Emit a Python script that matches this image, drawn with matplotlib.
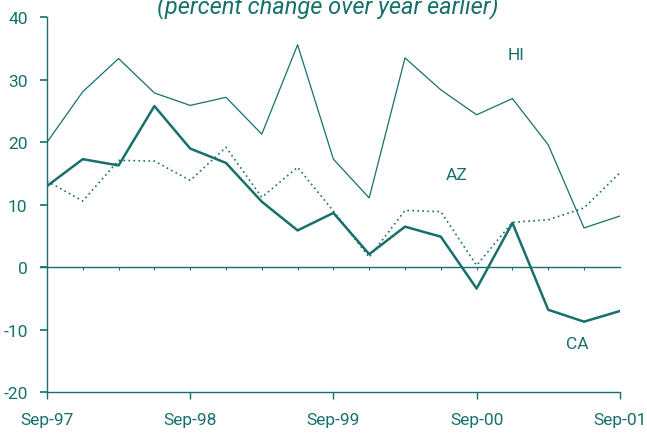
import matplotlib.pyplot as plt
import numpy as np

# quarterly, Sep-97 .. Sep-01 (percent change over year earlier)
quarters = np.arange(17)
ca = [13.0, 17.3, 16.3, 25.8, 19.0, 16.7, 10.5, 5.9, 8.7, 2.1, 6.5, 4.9, -3.4, 7.1, -6.8, -8.7, -7.0]
az = [13.8, 10.6, 17.1, 17.0, 13.9, 19.2, 11.2, 16.0, 9.0, 1.6, 9.1, 8.9, 0.3, 7.2, 7.6, 9.5, 15.1]
hi = [20.0, 28.1, 33.4, 27.9, 25.9, 27.2, 21.3, 35.6, 17.3, 11.1, 33.5, 28.4, 24.4, 27.0, 19.6, 6.3, 8.2]
year_ticks = [0, 4, 8, 12, 16]
year_labels = ['Sep-97', 'Sep-98', 'Sep-99', 'Sep-00', 'Sep-01']

teal = '#17706b'
plt.rcParams['font.family'] = ['Roboto', 'DejaVu Sans']
plt.rcParams['axes.unicode_minus'] = False

fig = plt.figure(figsize=(6.47, 4.35), dpi=100)
ax = fig.add_axes([0.0726, 0.0959, 0.8854, 0.862])

ax.plot(quarters, hi, color=teal, lw=0.9)
ax.plot(quarters, az, color=teal, lw=1.2, linestyle=(0, (1, 2)))
ax.plot(quarters, ca, color=teal, lw=1.8)

# zero line with quarterly ticks
ax.axhline(0, color=teal, lw=1.0, xmin=-0.012, clip_on=False)
ax.vlines(quarters, -0.5, 0, color=teal, lw=0.8)

ax.text(13.1, 34, 'HI', color=teal, fontsize=12.5, ha='center', va='center')
ax.text(11.45, 14.8, 'AZ', color=teal, fontsize=12.5, ha='center', va='center')
ax.text(14.8, -12.2, 'CA', color=teal, fontsize=12.5, ha='center', va='center')

ax.set_xlim(0, 16)
ax.set_ylim(-20, 40)
ax.set_yticks(range(-20, 41, 10))
ax.set_xticks(year_ticks)
ax.set_xticklabels(year_labels)

for s in ['top', 'right']:
    ax.spines[s].set_visible(False)
for s in ['left', 'bottom']:
    ax.spines[s].set_color(teal)
    ax.spines[s].set_linewidth(1.0)
ax.tick_params(axis='y', colors=teal, labelsize=12.5, length=5, width=1.2, pad=9)
ax.tick_params(axis='x', colors=teal, labelsize=12.5, length=5, width=1.0, pad=9)

# title sits partly above the figure edge, as in the source image
fig.text(0.507, 0.970, '(percent change over year earlier)', color=teal,
         fontsize=17, style='italic', ha='center', va='baseline')

plt.savefig('out.png', dpi=100)
